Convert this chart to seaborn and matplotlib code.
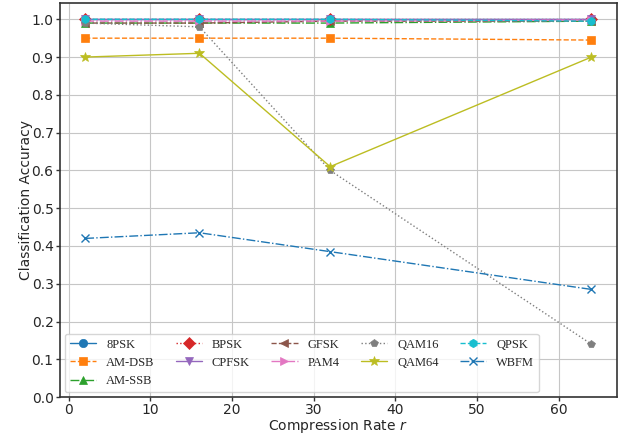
import numpy as np
import matplotlib
matplotlib.use("Agg")
import matplotlib.pyplot as plt
import seaborn as sns
import pandas as pd

# compression rates
rates = [2, 16, 32, 64]

mods = ['8PSK', 'AM-DSB', 'AM-SSB', 'BPSK', 'CPFSK', 'GFSK',
        'PAM4', 'QAM16', 'QAM64', 'QPSK', 'WBFM']

acc_8psk = [1.0, 1.0, 1.0, 1.0]
acc_amdsb = [0.95, 0.95, 0.95, 0.945]
acc_amssb = [0.99, 0.99, 0.99, 0.995]
acc_bpsk = [1.0, 1.0, 1.0, 1.0]
acc_cpfsk = [1.0, 1.0, 1.0, 1.0]
acc_gfsk = [0.99, 0.99, 0.995, 0.995]
acc_pam4 = [0.995, 0.995, 0.995, 0.998]
acc_qam16 = [0.99, 0.98, 0.60, 0.14]
acc_qam64 = [0.90, 0.91, 0.61, 0.90]
acc_qpsk = [1.0, 1.0, 1.0, 0.995]
acc_wbfm = [0.42, 0.435, 0.385, 0.285]

all_acc = [acc_8psk, acc_amdsb, acc_amssb, acc_bpsk, acc_cpfsk, acc_gfsk,
           acc_pam4, acc_qam16, acc_qam64, acc_qpsk, acc_wbfm]

df = pd.DataFrame({
    'rate': np.tile(rates, len(mods)),
    'acc': np.concatenate(all_acc),
    'mod': np.repeat(mods, len(rates)),
})

sns.set_style("whitegrid", {
    'grid.color': '#c6c6c6',
    'axes.edgecolor': '#333333',
    'xtick.bottom': True,
    'ytick.left': True,
})

colors = sns.color_palette("tab10", 10) + [sns.color_palette("tab10")[0]]
markers = ['o', 's', '^', 'D', 'v', '<', '>', 'p', '*', 'h', 'x']
styles = ['-', '--', '-.', ':', '-', '--', '-.', ':', '-', '--', '-.']

fig, ax = plt.subplots(figsize=(6.3, 4.34), dpi=100)
fig.subplots_adjust(left=0.095, right=0.979, top=0.993, bottom=0.085)

for i, m in enumerate(mods):
    sub = df[df['mod'] == m]
    sns.lineplot(data=sub, x='rate', y='acc', ax=ax, color=colors[i],
                 marker=markers[i], linestyle=styles[i], linewidth=1,
                 markersize=7 if markers[i] == '*' else 6,
                 markeredgewidth=1 if markers[i] == 'x' else 0.5,
                 markeredgecolor=colors[i], label=m)

ax.set_ylim(bottom=0)
ax.set_yticks(np.arange(0, 1.01, 0.1))
ax.set_xlabel('Compression Rate $r$', fontsize=10, labelpad=0)
ax.set_ylabel('Classification Accuracy', fontsize=10, labelpad=-1)
ax.tick_params(labelsize=10, length=3, width=1, color='#333333', pad=1.5)
for s in ax.spines.values():
    s.set_linewidth(1.2)

ax.legend(loc='lower left', ncol=5, prop={'family': 'Liberation Serif', 'size': 9},
          handlelength=2.1, columnspacing=1.7, labelspacing=0.5,
          handletextpad=0.8, markerscale=1.0,
          borderaxespad=0.4, frameon=True)

plt.savefig('out.png', dpi=100)
